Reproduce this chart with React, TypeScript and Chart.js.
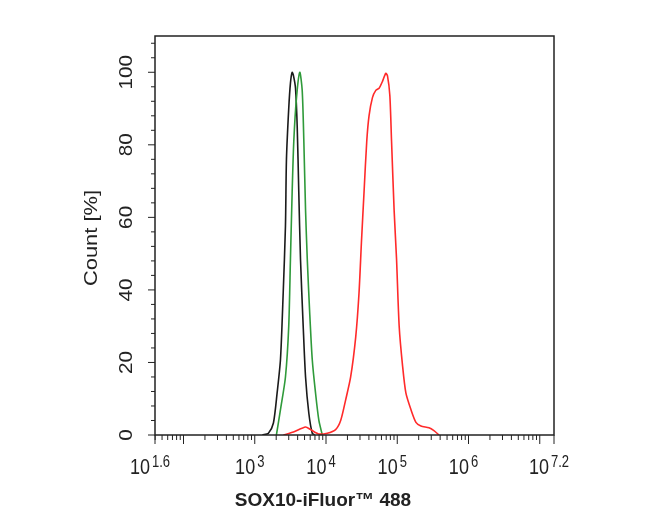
import { useEffect, useRef } from "react"
import { Chart, registerables } from "chart.js"

Chart.register(...registerables)

// axis ranges (x is log10 of intensity)
const xMinExp = 1.6
const xMaxExp = 7.2
const yMin = 0
const yMax = 110

// tick labels
const xLabelExps = ["1.6", "3", "4", "5", "6", "7.2"]
const xMajorExps = [1.6, 2, 3, 4, 5, 6, 7, 7.2]
const xMinorMultiples = [2, 3, 4, 5, 6, 7, 8, 9]
const yLabels = [0, 20, 40, 60, 80, 100]
const yMinorStep = 4

// series: log10(intensity) and count %
const blackLog = [3.107, 3.192, 3.262, 3.314, 3.361, 3.399, 3.431, 3.445, 3.477, 3.501, 3.525, 3.544, 3.572, 3.596, 3.618, 3.642, 3.68, 3.713, 3.759, 3.807, 3.839]
const blackCount = [0, 0.5, 3.3, 11.6, 20.8, 39, 57.6, 76, 90, 97, 100, 99, 95.6, 85, 67, 48.5, 30, 16, 6, 0.5, 0]

const greenLog = [3.304, 3.361, 3.431, 3.477, 3.501, 3.525, 3.548, 3.586, 3.632, 3.666, 3.689, 3.713, 3.737, 3.769, 3.807, 3.853, 3.9, 3.948]
const greenCount = [0, 7, 16, 30, 48.5, 67, 81, 93, 100, 95, 81, 62, 48.5, 34.6, 20.8, 11.6, 4, 0]

const redLog = [3.403, 3.544, 3.713, 3.783, 3.896, 4.018, 4.135, 4.206, 4.276, 4.346, 4.417, 4.463, 4.497, 4.534, 4.572, 4.604, 4.652, 4.699, 4.745, 4.793, 4.839, 4.863, 4.896, 4.92, 4.956, 4.99, 5.027, 5.075, 5.121, 5.192, 5.262, 5.332, 5.445, 5.515, 5.586]
const redCount = [0, 0.8, 2.2, 1.5, 0.3, 0.5, 1.5, 4, 9.7, 16, 27, 39, 53, 67, 81, 88, 93, 95, 95.6, 97.5, 99.7, 99, 93.6, 81, 62, 48.5, 30, 19, 11.6, 7, 3.5, 2.5, 2, 1.2, 0]

const FONT = "'Liberation Sans', Arial, sans-serif"
const INK = "#222"

const toPoints = (logs: number[], counts: number[]) =>
  logs.map((lx, i) => ({ x: Math.pow(10, lx), y: counts[i] }))

function stretchedText(ctx: CanvasRenderingContext2D, text: string, x: number, y: number, sy: number, rotate = false) {
  ctx.save()
  ctx.translate(x, y)
  if (rotate) {
    ctx.rotate(-Math.PI / 2)
    ctx.scale(sy, 1)
  } else {
    ctx.scale(1, sy)
  }
  ctx.fillText(text, 0, 0)
  ctx.restore()
}

const axesPlugin = {
  id: "facsAxes",
  afterDraw(chart: any) {
    const { ctx, chartArea, scales } = chart
    const { left, right, top, bottom } = chartArea
    const xs = scales.x
    const ys = scales.y

    ctx.save()
    ctx.strokeStyle = INK
    ctx.fillStyle = INK

    // frame
    ctx.lineWidth = 1.5
    ctx.strokeRect(left, top, right - left, bottom - top)

    // x ticks
    ctx.lineWidth = 1
    ctx.beginPath()
    xMajorExps.forEach((e) => {
      const px = xs.getPixelForValue(Math.pow(10, e))
      ctx.moveTo(px, bottom)
      ctx.lineTo(px, bottom + 9)
    })
    for (let d = 1; d <= 7; d++) {
      xMinorMultiples.forEach((m) => {
        const v = m * Math.pow(10, d)
        const lv = Math.log10(v)
        if (lv <= xMinExp || lv >= xMaxExp) return
        const px = xs.getPixelForValue(v)
        ctx.moveTo(px, bottom)
        ctx.lineTo(px, bottom + 5)
      })
    }

    // y ticks
    for (let v = yMin; v <= yMax - 1; v += yMinorStep) {
      const py = ys.getPixelForValue(v)
      const len = v % 20 === 0 ? 7 : 4
      ctx.moveTo(left, py)
      ctx.lineTo(left - len, py)
    }
    ctx.stroke()

    // x tick labels: 10 with superscript exponent
    xLabelExps.forEach((e) => {
      const px = xs.getPixelForValue(Math.pow(10, parseFloat(e)))
      ctx.font = `18px ${FONT}`
      const wBase = ctx.measureText("10").width
      ctx.font = `13px ${FONT}`
      const wSup = ctx.measureText(e).width
      const total = wBase + 2 + wSup
      const x0 = px - 5 - total / 2
      ctx.textAlign = "left"
      ctx.textBaseline = "alphabetic"
      ctx.font = `18px ${FONT}`
      stretchedText(ctx, "10", x0, 474, 1.25)
      ctx.font = `13px ${FONT}`
      stretchedText(ctx, e, x0 + wBase + 2, 467, 1.25)
    })

    // y tick labels (rotated)
    ctx.font = `18px ${FONT}`
    ctx.textAlign = "center"
    ctx.textBaseline = "alphabetic"
    yLabels.forEach((v) => {
      const py = ys.getPixelForValue(v)
      stretchedText(ctx, String(v), 132, py, 1.15, true)
    })

    // axis titles
    ctx.font = `19px ${FONT}`
    stretchedText(ctx, "Count [%]", 97, 238, 1.15, true)

    ctx.font = `bold 19px ${FONT}`
    ctx.textAlign = "center"
    stretchedText(ctx, "SOX10-iFluor\u2122 488", 323, 506, 1)

    ctx.restore()
  },
}

export default function App() {
  const canvasRef = useRef<HTMLCanvasElement>(null)
  const chartRef = useRef<Chart | null>(null)

  useEffect(() => {
    if (!canvasRef.current) return
    if (chartRef.current) chartRef.current.destroy()

    const line = (data: any[], color: string) => ({
      data,
      borderColor: color,
      borderWidth: 1.6,
      pointRadius: 0,
      tension: 0.25,
      fill: false,
    })

    chartRef.current = new Chart(canvasRef.current, {
      type: "line",
      data: {
        datasets: [
          line(toPoints(redLog, redCount), "#ff2a2a"),
          line(toPoints(greenLog, greenCount), "#2f9a3a"),
          line(toPoints(blackLog, blackCount), "#1a1a1a"),
        ],
      },
      options: {
        responsive: false,
        animation: false,
        layout: { padding: { left: 155, right: 96, top: 36, bottom: 85 } },
        plugins: { legend: { display: false }, tooltip: { enabled: false } },
        scales: {
          x: { type: "logarithmic", min: Math.pow(10, xMinExp), max: Math.pow(10, xMaxExp), display: false },
          y: { type: "linear", min: yMin, max: yMax, display: false },
        },
      },
      plugins: [axesPlugin],
    } as any)

    return () => {
      if (chartRef.current) {
        chartRef.current.destroy()
        chartRef.current = null
      }
    }
  }, [])

  return (
    <div style={{ position: "absolute", left: 0, top: 0, width: 650, height: 520, background: "#fff" }}>
      <canvas ref={canvasRef} width={650} height={520} />
    </div>
  )
}
